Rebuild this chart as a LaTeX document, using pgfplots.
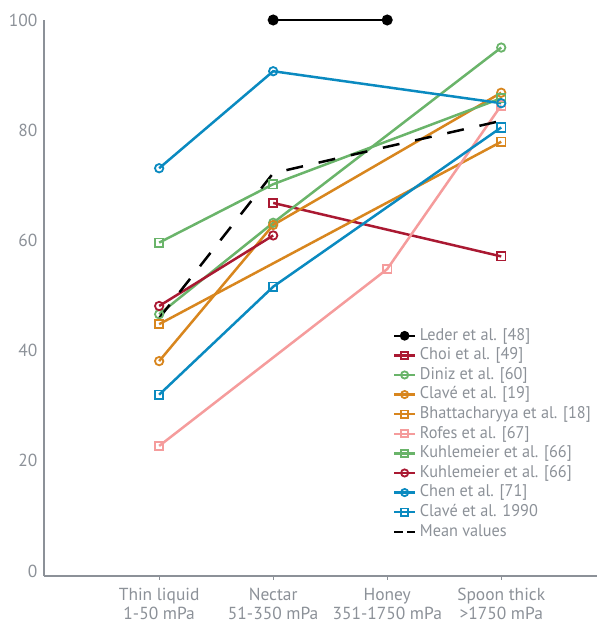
\documentclass[border=0pt]{standalone}
\usepackage{pgfplots}
\pgfplotsset{compat=1.18}
\usepackage{fontspec}
\setmainfont{PT Sans}
\newfontfamily\legfont[FakeStretch=0.96]{PT Sans}
\definecolor{txtgray}{HTML}{8C9198}
\definecolor{cblack}{HTML}{000000}
\definecolor{cred}{HTML}{AA1932}
\definecolor{cgreen}{HTML}{6AB46A}
\definecolor{corange}{HTML}{D8861E}
\definecolor{cpink}{HTML}{F59C9C}
\definecolor{cblue}{HTML}{0A8AC0}
\begin{document}
\begin{tikzpicture}
\path[use as bounding box] (-44bp,-49bp) rectangle (553bp,576bp);
\begin{axis}[
  at={(0,0)}, anchor=south west,
  scale only axis,
  width=553bp, height=556bp,
  xmin=-1.01, xmax=3.84,
  ymin=-0.9, ymax=100,
  clip=false,
  axis x line*=bottom, axis y line*=left,
  axis line style={-, draw=txtgray, line width=1.3bp},
  xtick={0,1,2,3},
  xticklabels={{Thin liquid\\1-50 mPa},{Nectar\\51-350 mPa},{Honey\\351-1750 mPa},{Spoon thick\\>1750 mPa}},
  xticklabel style={align=center, font=\fontsize{17.5}{19}\selectfont, text=txtgray, yshift=-5bp},
  x tick style={draw=txtgray, line width=1.2bp},
  tick align=outside,
  major tick length=4bp,
  ytick={0,20,40,60,80,100},
  y tick style={draw=none},
  yticklabel style={font=\fontsize{17.5}{19}\selectfont, text=txtgray, xshift=1bp},
  /pgf/number format/assume math mode=true,
  every axis plot/.append style={line width=2.5bp, mark size=4.2bp, mark options={solid, fill=white, line width=1.8bp}},
  legend cell align=left,
  legend style={draw=none, fill=none, at={(0.631,0.4478)}, anchor=north west,
    inner sep=0pt, outer sep=0pt,
    font=\legfont\fontsize{17}{18}\selectfont, text=txtgray,
    nodes={inner sep=0pt, text height=13bp, text depth=4.5bp},
    row sep=2.1bp, column sep=0pt},
  legend image code/.code={%
    \draw[mark repeat=2, mark phase=2, line width=2.4bp, mark size=3.6bp]
      plot coordinates {(0bp,0bp)(10.5bp,0bp)(21bp,0bp)};
    \path (24.5bp,0bp);},
]
\addplot[cblack, mark=*, mark options={fill=cblack, draw=cblack}] coordinates {(1,100) (2,100)};
\addlegendentry{Leder et al. [48]}
\addplot[cred, mark=square] coordinates {(1,66.8) (3,57.1)};
\addlegendentry{Choi et al. [49]}
\addplot[cgreen, mark=o] coordinates {(0,46.6) (1,63.2) (3,95.0)};
\addlegendentry{Diniz et al. [60]}
\addplot[corange, mark=o] coordinates {(0,38.1) (1,62.8) (3,86.8)};
\addlegendentry{Clavé et al. [19]}
\addplot[corange, mark=square] coordinates {(0,44.8) (3,77.9)};
\addlegendentry{Bhattacharyya et al. [18]}
\addplot[cpink, mark=square] coordinates {(0,22.7) (2,54.8) (3,84.5)};
\addlegendentry{Rofes et al. [67]}
\addplot[cgreen, mark=square] coordinates {(0,59.6) (1,70.2) (3,85.8)};
\addlegendentry{Kuhlemeier et al. [66]}
\addplot[cred, mark=o] coordinates {(0,48.1) (1,60.9)};
\addlegendentry{Kuhlemeier et al. [66]}
\addplot[cblue, mark=o] coordinates {(0,73.1) (1,90.7) (3,84.9)};
\addlegendentry{Chen et al. [71]}
\addplot[cblue, mark=square] coordinates {(0,32.0) (1,51.6) (3,80.5)};
\addlegendentry{Clavé et al. 1990}
\addplot[cblack, no marks, dash pattern=on 17bp off 16bp, line join=round,
  legend image code/.code={\draw[line width=2.4bp, dash pattern=on 9bp off 4bp] (0bp,0bp) -- (21bp,0bp); \path (24.5bp,0bp);}]
  coordinates {(0,45.9) (1,72.2) (2,77.0) (3,81.7)};
\addlegendentry{Mean values}
\end{axis}
\end{tikzpicture}
\end{document}
